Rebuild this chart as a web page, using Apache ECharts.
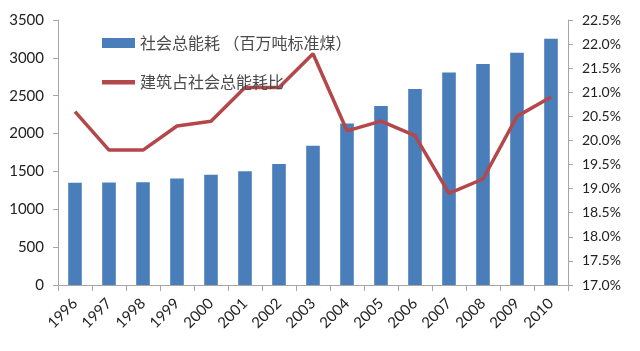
<!DOCTYPE html>
<html>
<head>
<meta charset="utf-8">
<script src="https://cdn.jsdelivr.net/npm/echarts@6/dist/echarts.min.js"></script>
<style>
  html, body { margin: 0; padding: 0; background: #fff; }
  #chart { width: 640px; height: 351px; }
</style>
</head>
<body>
<div id="chart"></div>
<script>
// 年份
var years = ['1996', '1997', '1998', '1999', '2000', '2001', '2002', '2003',
  '2004', '2005', '2006', '2007', '2008', '2009', '2010']
// 社会总能耗（百万吨标准煤）
var totalEnergy = [1350, 1355, 1358, 1408, 1457, 1502, 1598, 1840,
  2134, 2364, 2589, 2808, 2919, 3067, 3254]
// 建筑占社会总能耗比（%）
var buildingShare = [20.6, 19.8, 19.8, 20.3, 20.4, 21.1, 21.1, 21.8,
  20.2, 20.4, 20.1, 18.9, 19.2, 20.5, 20.9]

var barName = '社会总能耗 （百万吨标准煤）'
var lineName = '建筑占社会总能耗比'

var textFont = 'Lato, "Noto Sans CJK SC", sans-serif'
var axisLine = { show: true, lineStyle: { color: '#a6a6a6', width: 1 } }

var option = {
  animation: false,
  backgroundColor: '#fff',
  grid: { left: 58, right: 72, top: 20, bottom: 66 },
  legend: {
    orient: 'vertical',
    left: 97,
    top: 30,
    itemGap: 23,
    itemWidth: 33,
    itemHeight: 10,
    textStyle: { fontSize: 16, color: '#4a4a4a', fontFamily: '"Noto Sans CJK SC", sans-serif' },
    data: [
      { name: barName, icon: 'rect' },
      // 细线图例：用 moveTo 撑开包围盒，中间画一条粗线
      { name: lineName, icon: 'path://M0,0 M0,3 L33,3 L33,7.5 L0,7.5 Z M33,10' }
    ]
  },
  xAxis: {
    type: 'category',
    data: years,
    axisLine: axisLine,
    axisTick: { show: true, length: 6, lineStyle: { color: '#a6a6a6' } },
    axisLabel: { rotate: 45, fontSize: 15, color: '#222', margin: 16, fontFamily: textFont }
  },
  yAxis: [
    {
      type: 'value',
      min: 0,
      max: 3500,
      interval: 500,
      axisLine: axisLine,
      axisTick: { show: true, length: 5, lineStyle: { color: '#a6a6a6' } },
      splitLine: { show: false },
      axisLabel: {
        fontSize: 15,
        color: '#222',
        margin: 14,
        fontFamily: textFont,
        formatter: function (v) { return String(v) }
      }
    },
    {
      type: 'value',
      min: 17,
      max: 22.5,
      interval: 0.5,
      position: 'right',
      axisLine: axisLine,
      axisTick: { show: true, length: 5, lineStyle: { color: '#a6a6a6' } },
      splitLine: { show: false },
      axisLabel: {
        fontSize: 14,
        color: '#222',
        margin: 14,
        fontFamily: textFont,
        formatter: function (v) { return v.toFixed(1) + '%' }
      }
    }
  ],
  series: [
    {
      name: barName,
      type: 'bar',
      data: totalEnergy,
      barWidth: '40%',
      itemStyle: { color: '#4a7ebb' }
    },
    {
      name: lineName,
      type: 'line',
      yAxisIndex: 1,
      data: buildingShare,
      symbol: 'none',
      lineStyle: { color: '#b3474a', width: 3.5 },
      itemStyle: { color: '#b3474a' }
    }
  ]
}

var chart = echarts.init(document.getElementById('chart'))
chart.setOption(option)
</script>
</body>
</html>
